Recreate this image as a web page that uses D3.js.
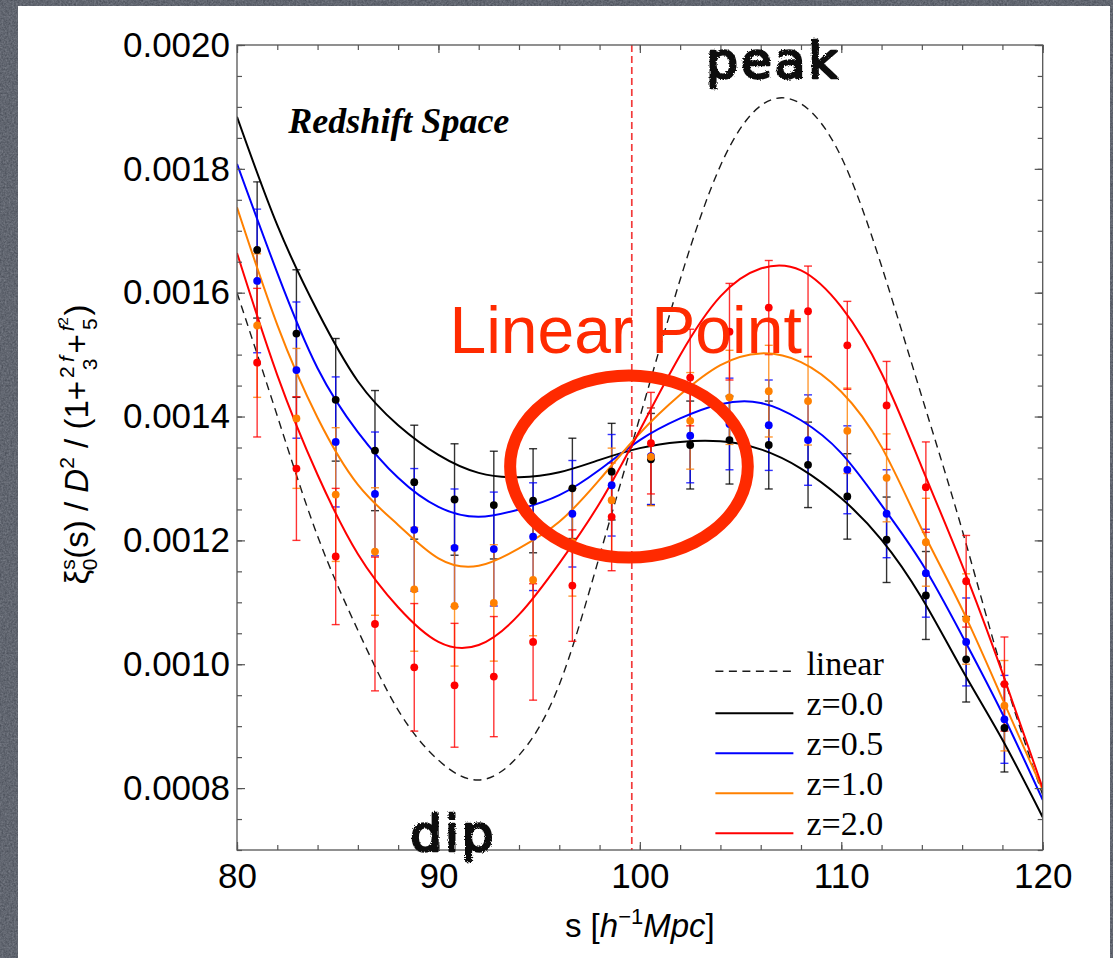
<!DOCTYPE html>
<html>
<head>
<meta charset="utf-8">
<script src="https://cdn.jsdelivr.net/npm/d3@7"></script>
<style>
  html, body { margin: 0; padding: 0; background: #4d525c; }
  svg { display: block; }
</style>
</head>
<body>
<div id="chart"></div>
<script>
// bin centres of the measured points (s in h^-1 Mpc)
const sPoints = [81.0, 82.95, 84.9, 86.85, 88.8, 90.8, 92.75, 94.7, 96.65, 98.6,
                 100.55, 102.5, 104.45, 106.4, 108.35, 110.3, 112.25, 114.2, 116.2, 118.1];

// measured xi_0 / D^2 / (1+2f/3+f^2/5) and 1-sigma errors
const pointsZ0 = [0.001669, 0.001534, 0.001427, 0.001345, 0.001294, 0.001266, 0.001257, 0.001264, 0.001284, 0.001311,
                  0.001331, 0.001354, 0.001362, 0.001354, 0.001322, 0.001271, 0.001201, 0.001111, 0.001008, 0.000897];
const errZ0 = [0.000110, 0.000103, 0.000099, 0.000097, 0.000092, 0.000090, 0.000087, 0.000084, 0.000081, 0.000078,
               0.000074, 0.000071, 0.000071, 0.000071, 0.000069, 0.000069, 0.000069, 0.000071, 0.000069, 0.000071];
const pointsZ05 = [0.001619, 0.001475, 0.001359, 0.001275, 0.001217, 0.001188, 0.001186, 0.001206, 0.001243, 0.001289,
                   0.001336, 0.001369, 0.001388, 0.001386, 0.001362, 0.001314, 0.001243, 0.001147, 0.001036, 0.000911];
const errZ05 = [0.000116, 0.000110, 0.000105, 0.000100, 0.000099, 0.000095, 0.000092, 0.000087, 0.000086, 0.000082,
                0.000078, 0.000076, 0.000074, 0.000073, 0.000073, 0.000071, 0.000071, 0.000071, 0.000071, 0.000071];
const pointsZ1 = [0.001547, 0.001397, 0.001274, 0.001182, 0.001121, 0.001094, 0.001099, 0.001136, 0.001197, 0.001265,
                  0.001335, 0.001393, 0.001431, 0.001441, 0.001425, 0.001377, 0.001301, 0.001197, 0.001073, 0.000933];
const errZ1 = [0.000116, 0.000113, 0.000108, 0.000103, 0.000100, 0.000097, 0.000094, 0.000090, 0.000087, 0.000084,
               0.000079, 0.000078, 0.000076, 0.000074, 0.000071, 0.000069, 0.000071, 0.000071, 0.000073, 0.000073];
const pointsZ2 = [0.001487, 0.001316, 0.001174, 0.001065, 0.000995, 0.000966, 0.000980, 0.001036, 0.001127, 0.001238,
                  0.001357, 0.001463, 0.001537, 0.001576, 0.001570, 0.001515, 0.001418, 0.001286, 0.001134, 0.000968];
const errZ2 = [0.000120, 0.000116, 0.000110, 0.000108, 0.000103, 0.000100, 0.000097, 0.000094, 0.000090, 0.000087,
               0.000082, 0.000078, 0.000078, 0.000076, 0.000073, 0.000071, 0.000071, 0.000073, 0.000074, 0.000076];

// model curves, read every 2 h^-1 Mpc
const sCurve = [80, 82, 84, 86, 88, 90, 92, 94, 96, 98, 100, 102, 104, 106, 108, 110, 112, 114, 116, 118, 120];
const curveLin = [0.001600, 0.001401, 0.001207, 0.001055, 0.000926, 0.000845, 0.000813, 0.000853, 0.000967, 0.001175, 0.001399,
                  0.001621, 0.001805, 0.001902, 0.001905, 0.001819, 0.001643, 0.001432, 0.001217, 0.000988, 0.000789];
const curveZ0 = [0.001884, 0.001709, 0.001570, 0.001457, 0.001386, 0.001338, 0.001309, 0.001302, 0.001310, 0.001330, 0.001349,
                 0.001359, 0.001360, 0.001347, 0.001316, 0.001268, 0.001201, 0.001107, 0.000991, 0.000878, 0.000753];
const curveZ05 = [0.001808, 0.001632, 0.001478, 0.001375, 0.001301, 0.001254, 0.001238, 0.001250, 0.001273, 0.001314, 0.001362,
                  0.001397, 0.001420, 0.001422, 0.001394, 0.001341, 0.001257, 0.001163, 0.001046, 0.000920, 0.000781];
const curveZ1 = [0.001738, 0.001548, 0.001398, 0.001290, 0.001225, 0.001171, 0.001159, 0.001187, 0.001230, 0.001298, 0.001373,
                 0.001435, 0.001483, 0.001502, 0.001488, 0.001440, 0.001351, 0.001218, 0.001089, 0.000944, 0.000797];
const curveZ2 = [0.001664, 0.001467, 0.001306, 0.001178, 0.001092, 0.001036, 0.001031, 0.001080, 0.001163, 0.001260, 0.001378,
                 0.001499, 0.001594, 0.001639, 0.001636, 0.001577, 0.001470, 0.001318, 0.001160, 0.000986, 0.000800];

const xTicks = [80, 90, 100, 110, 120];
const yTicks = [0.0008, 0.0010, 0.0012, 0.0014, 0.0016, 0.0018, 0.0020];
const legendLabels = ["linear", "z=0.0", "z=0.5", "z=1.0", "z=2.0"];
const sLinearPoint = 99.6;

const W = 1113, H = 958;
const M = {left: 237, top: 45, right: 70.3, bottom: 108};
const colors = ["#000000", "#0000ff", "#ff8000", "#ff0000"];
const sans = "'Liberation Sans', Arial, Helvetica, sans-serif";
const serif = "'Liberation Serif', 'Times New Roman', serif";
const annot = "#ff2a00";

const series = [
    {pts: pointsZ0, err: errZ0, curve: curveZ0},
    {pts: pointsZ05, err: errZ05, curve: curveZ05},
    {pts: pointsZ1, err: errZ1, curve: curveZ1},
    {pts: pointsZ2, err: errZ2, curve: curveZ2}
].map((d, i) => Object.assign(d, {color: colors[i]}));

const svg = d3.select("#chart").append("svg")
    .attr("width", W).attr("height", H);

const defs = svg.append("defs");
// slate background grain
const grain = defs.append("filter").attr("id", "grain")
    .attr("x", 0).attr("y", 0).attr("width", "100%").attr("height", "100%");
grain.append("feTurbulence").attr("type", "fractalNoise")
    .attr("baseFrequency", 0.55).attr("numOctaves", 3).attr("seed", 4);
grain.append("feColorMatrix").attr("type", "matrix")
    .attr("values", "0 0 0 0 0.9  0 0 0 0 0.92  0 0 0 0 1  0 0 0 0.35 -0.05");
// rough edges for the hand lettering
const rough = defs.append("filter").attr("id", "rough");
rough.append("feTurbulence").attr("type", "fractalNoise")
    .attr("baseFrequency", 0.7).attr("numOctaves", 2).attr("result", "n");
rough.append("feDisplacementMap").attr("in", "SourceGraphic").attr("in2", "n")
    .attr("scale", 3.5);
defs.append("clipPath").attr("id", "plotclip").append("rect")
    .attr("x", M.left).attr("y", M.top)
    .attr("width", W - M.left - M.right).attr("height", H - M.top - M.bottom);

svg.append("rect").attr("width", W).attr("height", H).attr("fill", "#4c515b");
svg.append("rect").attr("width", W).attr("height", H).attr("filter", "url(#grain)");
svg.append("rect").attr("x", 18).attr("y", 6).attr("width", 1092).attr("height", H)
    .attr("fill", "#ffffff");

const x = d3.scaleLinear().domain([80, 120]).range([M.left, W - M.right]);
const y = d3.scaleLinear().domain([0.0007, 0.0020]).range([H - M.bottom, M.top]);

const plot = svg.append("g").attr("clip-path", "url(#plotclip)");

// vertical marker at the linear point
plot.append("line")
    .attr("x1", x(sLinearPoint)).attr("x2", x(sLinearPoint))
    .attr("y1", y.range()[1]).attr("y2", y.range()[0])
    .attr("stroke", "#f23a3a").attr("stroke-width", 1.7)
    .attr("stroke-dasharray", "7,4");

const line = d3.line()
    .x((d, i) => x(sCurve[i]))
    .y(d => y(d))
    .curve(d3.curveNatural);

plot.append("path").datum(curveLin)
    .attr("d", line).attr("fill", "none")
    .attr("stroke", "#1a1a1a").attr("stroke-width", 1.4)
    .attr("stroke-dasharray", "8,5.5");

// error bars first, then curves, then dots
series.forEach(s => {
    const g = plot.append("g").attr("stroke", s.color).attr("stroke-width", 1.4)
        .attr("stroke-opacity", 0.8);
    const bars = g.selectAll("g").data(s.pts).join("g");
    bars.append("line")
        .attr("x1", (d, i) => x(sPoints[i])).attr("x2", (d, i) => x(sPoints[i]))
        .attr("y1", (d, i) => y(d - s.err[i])).attr("y2", (d, i) => y(d + s.err[i]));
    [-1, 1].forEach(k => {
        bars.append("line")
            .attr("x1", (d, i) => x(sPoints[i]) - 4).attr("x2", (d, i) => x(sPoints[i]) + 4)
            .attr("y1", (d, i) => y(d + k * s.err[i])).attr("y2", (d, i) => y(d + k * s.err[i]));
    });
});

series.forEach(s => {
    plot.append("path").datum(s.curve)
        .attr("d", line).attr("fill", "none")
        .attr("stroke", s.color).attr("stroke-width", 2);
});

series.forEach(s => {
    plot.append("g").selectAll("circle").data(s.pts).join("circle")
        .attr("cx", (d, i) => x(sPoints[i]))
        .attr("cy", d => y(d))
        .attr("r", 3.9)
        .attr("fill", s.color);
});

// frame and inward ticks on all sides
svg.append("rect")
    .attr("x", M.left).attr("y", M.top)
    .attr("width", W - M.left - M.right).attr("height", H - M.top - M.bottom)
    .attr("fill", "none").attr("stroke", "#555").attr("stroke-width", 1.3);

const xMinor = d3.range(80, 121, 2);
const yMinor = d3.range(14, 41).map(k => k * 0.00005);
const blank = () => "";

function styleAxis(g) {
    g.select(".domain").remove();
    g.selectAll(".tick line").attr("stroke", "#555").attr("stroke-width", 1.2);
    g.selectAll("text").attr("font-family", sans).attr("font-size", 35).attr("fill", "#000");
}

const pBottom = H - M.bottom, pTop = M.top, pLeft = M.left, pRight = W - M.right;
svg.append("g").attr("transform", `translate(0,${pBottom})`)
    .call(d3.axisBottom(x).tickValues(xMinor).tickSize(-5).tickFormat(blank)).call(styleAxis);
svg.append("g").attr("transform", `translate(0,${pBottom})`)
    .call(d3.axisBottom(x).tickValues(xTicks).tickSize(-8).tickPadding(13).tickFormat(d3.format("d")))
    .call(styleAxis);
svg.append("g").attr("transform", `translate(0,${pTop})`)
    .call(d3.axisTop(x).tickValues(xMinor).tickSize(-5).tickFormat(blank)).call(styleAxis);
svg.append("g").attr("transform", `translate(0,${pTop})`)
    .call(d3.axisTop(x).tickValues(xTicks).tickSize(-8).tickFormat(blank)).call(styleAxis);
svg.append("g").attr("transform", `translate(${pLeft},0)`)
    .call(d3.axisLeft(y).tickValues(yMinor).tickSize(-5).tickFormat(blank)).call(styleAxis);
svg.append("g").attr("transform", `translate(${pLeft},0)`)
    .call(d3.axisLeft(y).tickValues(yTicks).tickSize(-8).tickPadding(7).tickFormat(d3.format(".4f")))
    .call(styleAxis);
svg.append("g").attr("transform", `translate(${pRight},0)`)
    .call(d3.axisRight(y).tickValues(yMinor).tickSize(-5).tickFormat(blank)).call(styleAxis);
svg.append("g").attr("transform", `translate(${pRight},0)`)
    .call(d3.axisRight(y).tickValues(yTicks).tickSize(-8).tickFormat(blank)).call(styleAxis);

// x label: s [h^-1 Mpc]
const xl = svg.append("text")
    .attr("x", (pLeft + pRight) / 2).attr("y", 937)
    .attr("text-anchor", "middle")
    .attr("font-family", sans).attr("font-size", 33);
xl.append("tspan").text("s [");
xl.append("tspan").attr("font-style", "italic").text("h");
xl.append("tspan").attr("font-size", 22).attr("dy", -13).text("\u22121");
xl.append("tspan").attr("font-style", "italic").attr("dy", 13).text("Mpc");
xl.append("tspan").text("]");

// y label: xi_0^s(s) / D^2 / (1 + 2f/3 + f^2/5)
const yl = svg.append("text")
    .attr("transform", `translate(88,${(pTop + pBottom) / 2 - 3}) rotate(-90)`)
    .attr("text-anchor", "middle")
    .attr("font-family", sans).attr("font-size", 33);
yl.append("tspan").text("\u03be");
yl.append("tspan").attr("font-size", 21).attr("dy", -13).text("s");
yl.append("tspan").attr("font-size", 21).attr("dx", -11).attr("dy", 22).text("0");
yl.append("tspan").attr("dy", -9).text("(s) / ");
yl.append("tspan").attr("font-style", "italic").text("D");
yl.append("tspan").attr("font-size", 21).attr("dy", -14).text("2");
yl.append("tspan").attr("dy", 14).text(" / (1+");
yl.append("tspan").attr("font-size", 21).attr("dx", 3).attr("dy", -14).text("2\u2009");
yl.append("tspan").attr("font-size", 21).attr("font-style", "italic").text("f");
yl.append("tspan").attr("font-size", 21).attr("dx", -14).attr("dy", 23).text("3");
yl.append("tspan").attr("dx", 5).attr("dy", -9).text("+");
yl.append("tspan").attr("font-size", 21).attr("font-style", "italic").attr("dx", 3).attr("dy", -14).text("f");
yl.append("tspan").attr("font-size", 15).attr("dy", -6).text("2");
yl.append("tspan").attr("font-size", 21).attr("dx", -13).attr("dy", 29).text("5");
yl.append("tspan").attr("dx", 3).attr("dy", -9).text(")");

// panel caption
svg.append("text")
    .attr("x", x(82.55)).attr("y", y(0.0018579))
    .attr("font-family", serif).attr("font-size", 36)
    .attr("font-weight", "bold").attr("font-style", "italic")
    .text("Redshift Space");

// legend
const lg = svg.append("g").attr("transform", `translate(${x(103.75)},${y(0.0009855)})`);
legendLabels.forEach((lab, i) => {
    const row = lg.append("g").attr("transform", `translate(0,${i * 40})`);
    row.append("line").attr("x1", 0).attr("x2", 78).attr("y1", i === 0 ? -2 : 0).attr("y2", i === 0 ? -2 : 0)
        .attr("stroke", i === 0 ? "#1a1a1a" : colors[i - 1])
        .attr("stroke-width", i === 0 ? 1.5 : 2)
        .attr("stroke-dasharray", i === 0 ? "8,5.5" : null);
    row.append("text").attr("x", 91).attr("y", 2)
        .attr("font-family", serif).attr("font-size", 34).text(lab);
});

// slide annotations
svg.append("ellipse")
    .attr("cx", x(99.46)).attr("cy", y(0.0013193))
    .attr("rx", x(99.46 + 5.9) - x(99.46))
    .attr("ry", y(0.0013193 - 0.000147) - y(0.0013193))
    .attr("fill", "none").attr("stroke", annot).attr("stroke-width", 12);

svg.append("text")
    .attr("x", x(90.55)).attr("y", y(0.001503))
    .attr("font-family", sans).attr("font-size", 66).attr("fill", annot)
    .text("Linear Point");

const hand = [["peak", 103.3, 0.001947], ["dip", 88.6, 0.0006985]];
hand.forEach(([t, sx, v]) => {
    svg.append("text")
        .attr("x", x(sx)).attr("y", y(v))
        .attr("font-family", "'DejaVu Sans', sans-serif")
        .attr("font-size", 50).attr("letter-spacing", 3)
        .attr("fill", "#111").attr("stroke", "#111").attr("stroke-width", 2.6)
        .attr("stroke-linejoin", "round").attr("filter", "url(#rough)")
        .text(t);
});
</script>
</body>
</html>
